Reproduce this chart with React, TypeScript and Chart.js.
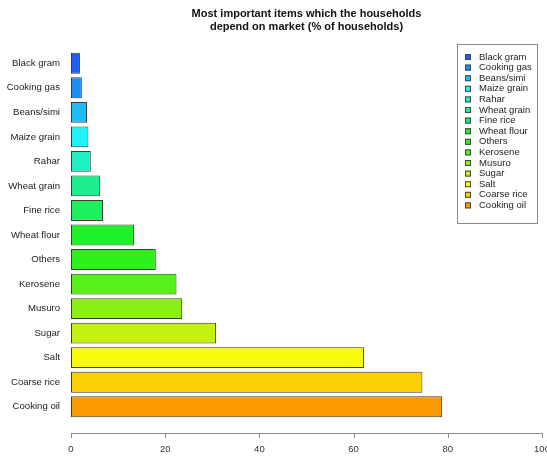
import React, { useEffect, useRef } from "react";
import { Chart, registerables } from "chart.js";

Chart.register(...registerables);

const categories = [
  "Black gram",
  "Cooking gas",
  "Beans/simi",
  "Maize grain",
  "Rahar",
  "Wheat grain",
  "Fine rice",
  "Wheat flour",
  "Others",
  "Kerosene",
  "Musuro",
  "Sugar",
  "Salt",
  "Coarse rice",
  "Cooking oil",
];

const values = [1.9, 2.3, 3.4, 3.7, 4.2, 6.2, 6.8, 13.4, 18.0, 22.4, 23.6, 30.8, 62.2, 74.6, 78.8];

const colors = [
  "#1f5ef5",
  "#1e8cf5",
  "#1dbdf7",
  "#1ff3f7",
  "#1ff0c4",
  "#1cf08e",
  "#1cf05c",
  "#1ef02a",
  "#2ef01c",
  "#56f01a",
  "#8cf016",
  "#c4f012",
  "#fafa0c",
  "#fccf06",
  "#fc9a04",
];

const xTicks = [0, 20, 40, 60, 80, 100];

const titleLines = [
  "Most important items which the households",
  "depend on market (% of households)",
];

const FONT = '"Liberation Sans", Arial, sans-serif';

const overlay = {
  id: "rStyle",
  afterDraw(chart: any) {
    const ctx = chart.ctx;
    const area = chart.chartArea;
    const xs = chart.scales.x;
    ctx.save();

    // title
    ctx.fillStyle = "#111";
    ctx.font = `bold 11px ${FONT}`;
    ctx.textAlign = "center";
    ctx.textBaseline = "middle";
    const cx = (area.left + area.right) / 2;
    titleLines.forEach((t, i) => ctx.fillText(t, cx, 14 + i * 13));

    // x axis (R style, offset below plot)
    const y0 = area.bottom + 14;
    const xa = xs.getPixelForValue(xTicks[0]);
    const xb = xs.getPixelForValue(xTicks[xTicks.length - 1]);
    ctx.strokeStyle = "#8a8a8a";
    ctx.lineWidth = 1;
    ctx.beginPath();
    ctx.moveTo(xa, y0 + 0.5);
    ctx.lineTo(xb, y0 + 0.5);
    xTicks.forEach((v) => {
      const px = Math.round(xs.getPixelForValue(v)) + 0.5;
      ctx.moveTo(px, y0);
      ctx.lineTo(px, y0 + 5);
    });
    ctx.stroke();
    ctx.fillStyle = "#333";
    ctx.font = `9.5px ${FONT}`;
    ctx.textAlign = "center";
    xTicks.forEach((v) => {
      ctx.fillText(String(v), xs.getPixelForValue(v), y0 + 16);
    });

    // legend
    const lx = 457.5, ly = 44.5, lw = 80, lh = 179;
    ctx.fillStyle = "#fff";
    ctx.fillRect(lx, ly, lw, lh);
    ctx.strokeStyle = "#8a8a8a";
    ctx.strokeRect(lx, ly, lw, lh);
    ctx.font = `9.5px ${FONT}`;
    ctx.textAlign = "left";
    ctx.textBaseline = "middle";
    categories.forEach((c, i) => {
      const yy = 57 + i * 10.6;
      ctx.fillStyle = colors[i];
      ctx.fillRect(465, yy - 3, 6, 6);
      ctx.strokeStyle = "#444";
      ctx.strokeRect(465.5, yy - 2.5, 5, 5);
      ctx.fillStyle = "#222";
      ctx.fillText(c, 479, yy);
    });

    ctx.restore();
  },
};

export default function App() {
  const ref = useRef<HTMLCanvasElement>(null);
  useEffect(() => {
    if (!ref.current) return;
    const chart = new Chart(ref.current, {
      type: "bar",
      data: {
        labels: categories,
        datasets: [
          {
            data: values,
            backgroundColor: colors,
            borderColor: "#3c3c30",
            borderWidth: 1,
            borderSkipped: false,
            barPercentage: 0.85,
            categoryPercentage: 1,
          },
        ],
      },
      options: {
        indexAxis: "y",
        animation: false,
        responsive: false,
        layout: { padding: { top: 51, bottom: 37, right: 5, left: 0 } },
        plugins: { legend: { display: false }, tooltip: { enabled: false }, title: { display: false } },
        scales: {
          x: { type: "linear", min: 0, max: 100, display: false },
          y: {
            type: "category",
            offset: true,
            grid: { display: false, drawTicks: false },
            border: { display: false },
            ticks: { color: "#222", font: { family: FONT, size: 9.6 }, padding: 11 },
            afterFit(scale: any) {
              scale.width = 71;
            },
          },
        },
      },
      plugins: [overlay],
    });
    return () => chart.destroy();
  }, []);
  return (
    <div style={{ position: "absolute", left: 0, top: 0, width: 547, height: 456 }}>
      <canvas ref={ref} width={547} height={456} style={{ display: "block" }} />
    </div>
  );
}
